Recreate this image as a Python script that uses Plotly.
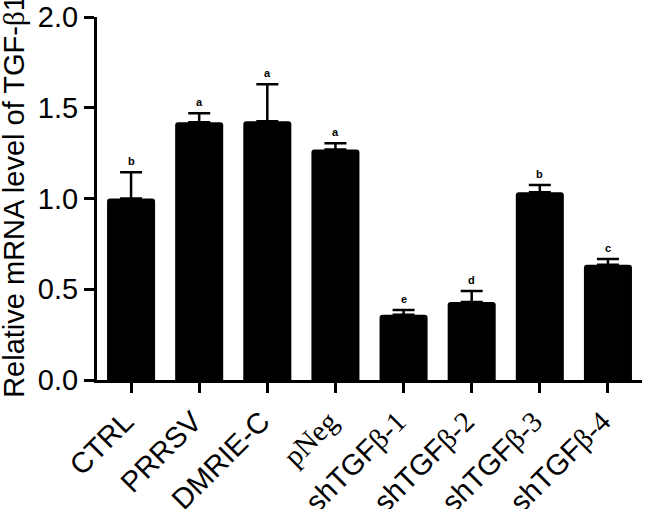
import plotly.graph_objects as go

SERIF = "font-family:Liberation Serif, Times New Roman, serif;color:black"

categories = ["CTRL", "PRRSV", "DMRIE-C", "pNeg", "shTGFβ-1", "shTGFβ-2", "shTGFβ-3", "shTGFβ-4"]
tick_labels = [
    "CTRL", "PRRSV", "DMRIE-C",
    f"<span style='{SERIF}'>pNeg</span>",
    f"shTGF<span style='{SERIF}'>β-1</span>",
    f"shTGF<span style='{SERIF}'>β-2</span>",
    f"shTGF<span style='{SERIF}'>β-3</span>",
    f"shTGF<span style='{SERIF}'>β-4</span>",
]
values = [1.00, 1.42, 1.425, 1.27, 0.36, 0.43, 1.035, 0.635]
errors = [0.145, 0.05, 0.205, 0.035, 0.025, 0.06, 0.04, 0.032]
letters = ["b", "a", "a", "a", "e", "d", "b", "c"]
y_ticks = [0, 0.5, 1.0, 1.5, 2.0]
y_tick_labels = ["0.0", "0.5", "1.0", "1.5", "2.0"]

fig = go.Figure()
fig.add_trace(go.Bar(
    x=categories, y=values,
    marker=dict(color="black", line=dict(width=0), cornerradius=3),
    error_y=dict(type="data", symmetric=False, array=errors,
                 arrayminus=[0] * len(errors),
                 color="black", thickness=2.5, width=11),
))

for c, v, e, l in zip(categories, values, errors, letters):
    fig.add_annotation(x=c, y=v + e, text=f"<b>{l}</b>", showarrow=False,
                       yanchor="bottom", yshift=3,
                       font=dict(size=11, color="black", family="Arial, Liberation Sans"))

fig.add_annotation(xref="paper", yref="paper", x=-0.152, y=0.505,
                   text=f"Relative mRNA level of TGF-<span style='{SERIF}'>β</span>1",
                   textangle=-90, showarrow=False, xanchor="center", yanchor="middle",
                   font=dict(size=29, color="black", family="Arial, Liberation Sans"))

fig.update_layout(
    width=645, height=509,
    margin=dict(l=97, r=3, t=17, b=129),
    plot_bgcolor="white", paper_bgcolor="white",
    bargap=0.295,
    showlegend=False,
    font=dict(family="Arial, Liberation Sans", color="black"),
)
fig.update_xaxes(
    tickmode="array", tickvals=categories, ticktext=tick_labels,
    tickangle=-45, tickfont=dict(size=29, color="black"),
    ticklabelshift=-6,
    showline=True, linecolor="black", linewidth=3,
    ticks="outside", ticklen=10, tickwidth=3, tickcolor="black",
    showgrid=False, range=[-0.5, 7.5], automargin=False,
)
fig.update_yaxes(
    range=[0, 2.0], tickvals=y_ticks, ticktext=y_tick_labels,
    tickfont=dict(size=29, color="black"),
    showline=True, linecolor="black", linewidth=3,
    ticks="outside", ticklen=10, tickwidth=3, tickcolor="black",
    showgrid=False, zeroline=False, automargin=False,
)

fig.write_html("out.html", config={"displayModeBar": False},
               post_script="document.body.style.margin='0';")
